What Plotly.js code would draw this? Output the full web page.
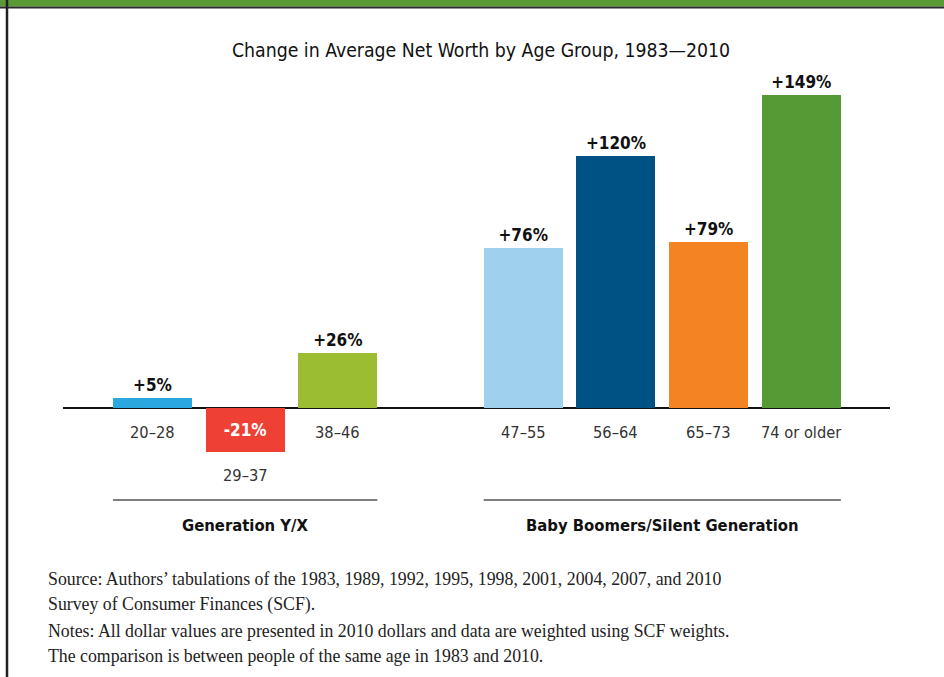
<!DOCTYPE html>
<html>
<head>
<meta charset="utf-8">
<script src="https://cdn.plot.ly/plotly-3.0.1.min.js"></script>
<style>
html,body{margin:0;padding:0;background:#fff;}
#chart{width:944px;height:677px;}
</style>
</head>
<body>
<div id="chart"></div>
<script>
// ---- data ----
const categories = ["20–28", "29–37", "38–46", "47–55", "56–64", "65–73", "74 or older"];
const positions = [0, 1, 2, 4, 5, 6, 7];
const values = [5, -21, 26, 76, 120, 79, 149];
const valueLabels = ["+5%", "-21%", "+26%", "+76%", "+120%", "+79%", "+149%"];
const barColors = ["#29a8e0", "#ef4036", "#9abd32", "#9fd0ee", "#005184", "#f38421", "#559a34"];
const groupNames = ["Generation Y/X", "Baby Boomers/Silent Generation"];
const groupMembers = [[0, 1, 2], [3, 4, 5, 6]];
const notes = [
  "Source: Authors’ tabulations of the 1983, 1989, 1992, 1995, 1998, 2001, 2004, 2007, and 2010",
  "Survey of Consumer Finances (SCF).",
  "Notes: All dollar values are presented in 2010 dollars and data are weighted using SCF weights.",
  "The comparison is between people of the same age in 1983 and 2010."
];

// ---- layout geometry ----
const W = 944, H = 677;
const M = {l: 63, r: 54, t: 72, b: 143};
const PW = W - M.l - M.r, PH = H - M.t - M.b;
const px = x => (x - M.l) / PW;          // pixel x -> paper
const py = y => (H - M.b - y) / PH;      // pixel y -> paper
const barW = 0.852;
const condensed = "'DejaVu Sans Condensed', 'Roboto', sans-serif";

const trace = {
  type: "bar",
  x: positions,
  y: values,
  width: barW,
  marker: {color: barColors, line: {width: 0}},
  text: valueLabels,
  textposition: values.map(v => v < 0 ? "inside" : "outside"),
  insidetextanchor: "middle",
  textangle: 0,
  cliponaxis: false,
  constraintext: "none",
  textfont: {family: condensed, size: 17, weight: "bold", color: values.map(v => v < 0 ? "#ffffff" : "#111111")},
  hoverinfo: "skip"
};

const annotations = [];
categories.forEach((c, i) => {
  const neg = values[i] < 0;
  annotations.push({
    x: positions[i], xref: "x",
    y: neg ? values[i] : 0, yref: "y",
    yanchor: "top", xanchor: "center",
    yshift: neg ? -12 : -13,
    text: c, showarrow: false,
    font: {family: condensed, size: 16.3, color: "#333333"}
  });
});

const shapes = [];
groupMembers.forEach((g, k) => {
  const x0 = positions[g[0]] - barW / 2;
  const x1 = positions[g[g.length - 1]] + barW / 2;
  shapes.push({type: "line", xref: "x", yref: "paper", x0: x0, x1: x1, y0: py(500), y1: py(500),
    line: {color: "#555555", width: 1.5}});
  annotations.push({
    x: (positions[g[0]] + positions[g[g.length - 1]]) / 2, xref: "x",
    y: py(525), yref: "paper", yanchor: "middle", xanchor: "center",
    text: groupNames[k], showarrow: false,
    font: {family: condensed, size: 16.5, color: "#111111", weight: "bold"}
  });
});

const noteY = [579, 604, 631, 656];
notes.forEach((t, i) => {
  annotations.push({
    x: px(46), xref: "paper", xanchor: "left",
    y: py(noteY[i]), yref: "paper", yanchor: "middle",
    text: t, showarrow: false, align: "left",
    font: {family: "'Liberation Serif', 'DejaVu Serif', serif", size: 17.8, color: "#222222"}
  });
});

// frame: green band on top, dark rule, left border
shapes.push({type: "rect", xref: "paper", yref: "paper", x0: px(0), x1: px(W), y0: py(0), y1: py(6.5),
  fillcolor: "#5a9a36", line: {width: 0}, layer: "above"});
shapes.push({type: "line", xref: "paper", yref: "paper", x0: px(0), x1: px(W), y0: py(7.5), y1: py(7.5),
  line: {color: "#2a2a2a", width: 2}, layer: "above"});
shapes.push({type: "line", xref: "paper", yref: "paper", x0: px(7), x1: px(7), y0: py(0), y1: py(H),
  line: {color: "#222222", width: 2.5}, layer: "above"});

const layout = {
  width: W, height: H,
  margin: M,
  paper_bgcolor: "#ffffff",
  plot_bgcolor: "#ffffff",
  showlegend: false,
  title: {
    text: "Change in Average Net Worth by Age Group, 1983—2010",
    xref: "container", x: 481 / W, xanchor: "center",
    yref: "container", y: 1 - 50 / H, yanchor: "middle",
    font: {family: condensed, size: 19.3, color: "#111111"}
  },
  xaxis: {range: [-0.965, 7.956], showgrid: false, zeroline: false, showticklabels: false,
    showline: false, ticks: "", fixedrange: true},
  yaxis: {range: [-60, 160], showgrid: false, showticklabels: false, ticks: "", showline: false,
    zeroline: true, zerolinecolor: "#111111", zerolinewidth: 2, fixedrange: true},
  annotations: annotations,
  shapes: shapes,
  bargap: 0
};

Plotly.newPlot("chart", [trace], layout, {displayModeBar: false, staticPlot: true});
</script>
</body>
</html>
